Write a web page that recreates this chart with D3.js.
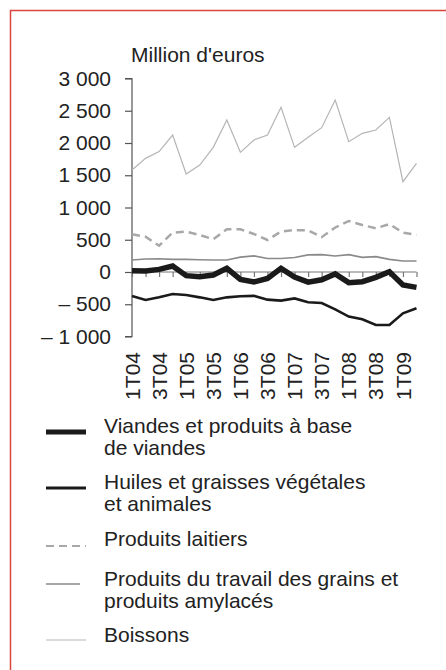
<!DOCTYPE html>
<meta charset="utf-8">
<style type="text/css">
	html, body { margin: 0; padding: 0; background: #ffffff; overflow: hidden; }
	svg { display: block; }
	svg text { font-family: "Liberation Sans", Arial, sans-serif; fill: #222222; }
</style>
<body>
	<div id="chartCt"></div>
</body>

<script src="https://d3js.org/d3.v7.min.js"></script>
<script>
	// quarters 1T04 .. 2T09
	const quarters = ["1T04", "2T04", "3T04", "4T04", "1T05", "2T05", "3T05", "4T05",
		"1T06", "2T06", "3T06", "4T06", "1T07", "2T07", "3T07", "4T07",
		"1T08", "2T08", "3T08", "4T08", "1T09", "2T09"];
	const tickLabels = ["1T04", "3T04", "1T05", "3T05", "1T06", "3T06", "1T07", "3T07", "1T08", "3T08", "1T09"];
	const yTicks = [-1000, -500, 0, 500, 1000, 1500, 2000, 2500, 3000];

	// million d'euros
	const viandes = [20, 16, 41, 93, -57, -72, -47, 57, -114, -155, -100, 57, -78, -158, -120, -30, -165, -150, -83, 5, -202, -238];
	const huiles = [-372, -434, -393, -341, -357, -393, -434, -393, -377, -370, -429, -444, -410, -468, -480, -580, -692, -734, -822, -822, -641, -563];
	const laitiers = [584, 548, 408, 610, 625, 574, 507, 662, 662, 590, 496, 628, 650, 645, 540, 690, 791, 729, 677, 744, 610, 574];
	const grains = [186, 201, 206, 196, 196, 191, 186, 186, 230, 250, 210, 210, 225, 266, 270, 248, 269, 227, 238, 196, 171, 171];
	const boissons = [1581, 1762, 1866, 2124, 1519, 1659, 1933, 2357, 1855, 2047, 2124, 2553, 1933, 2088, 2238, 2667, 2020, 2150, 2202, 2398, 1400, 1685];

	const series = [
		{ label: ["Viandes et produits à base", "de viandes"], values: viandes, color: "#1a1a1a", width: 5.5, dash: null, legendWidth: 5 },
		{ label: ["Huiles et graisses végétales", "et animales"], values: huiles, color: "#1a1a1a", width: 2.6, dash: null, legendWidth: 3 },
		{ label: ["Produits laitiers"], values: laitiers, color: "#a8a8a8", width: 2.5, dash: "8,5", legendWidth: 2.2 },
		{ label: ["Produits du travail des grains et", "produits amylacés"], values: grains, color: "#8a8a8a", width: 1.6, dash: null, legendWidth: 1.6 },
		{ label: ["Boissons"], values: boissons, color: "#b5b5b5", width: 1.2, dash: null, legendWidth: 1.2 }
	];
	// draw order: light lines first, thick black on top
	const drawOrder = [4, 3, 2, 1, 0];

	const width = 446;
	const height = 670;

	const svg = d3.select("#chartCt")
		.append("svg")
		.attr("width", width)
		.attr("height", height);

	// red frame, open on the right and bottom
	svg.append("path")
		.attr("d", `M10.5,${height}V10.5H${width}`)
		.attr("fill", "none")
		.attr("stroke", "#d8463d")
		.attr("stroke-width", 1.5);

	const x = d3.scalePoint()
		.domain(quarters)
		.range([132, 416.5]);

	const y = d3.scaleLinear()
		.domain([-1000, 3000])
		.range([336.5, 78.5]);

	svg.append("text")
		.attr("x", 131)
		.attr("y", 62)
		.style("font-size", "21px")
		.text("Million d'euros");

	// y axis
	const fmt = v => (v < 0 ? "\u2013 " : "") + d3.format(",")(Math.abs(v)).replace(/,/g, " ");
	const yAxis = svg.append("g")
		.attr("transform", `translate(${x(quarters[0])},0)`)
		.call(d3.axisLeft(y).tickValues(yTicks).tickSize(7).tickPadding(14).tickFormat(fmt));
	yAxis.select(".domain").attr("stroke", "#555555").attr("stroke-width", 1.2).attr("d", `M-7,${y(3000)}H0V${y(-1000)}H-7`);
	yAxis.selectAll(".tick line").attr("stroke", "#555555").attr("stroke-width", 1.2);
	yAxis.selectAll(".tick text").style("font-size", "21px").attr("fill", "#222222");

	// x axis on the zero line
	const xAxis = svg.append("g")
		.attr("transform", `translate(0,${y(0)})`)
		.call(d3.axisBottom(x).tickSize(5).tickFormat(""));
	xAxis.select(".domain").attr("stroke", "#777777").attr("stroke-width", 1.2).attr("d", `M${x(quarters[0])},0H${x(quarters[quarters.length - 1])}`);
	xAxis.selectAll(".tick line").attr("stroke", "#777777").attr("stroke-width", 1.2);

	// rotated quarter labels
	svg.append("g")
		.selectAll("text")
		.data(tickLabels)
		.join("text")
		.attr("transform", d => `translate(${x(d)},352) rotate(-90)`)
		.attr("dy", "0.36em")
		.attr("text-anchor", "end")
		.style("font-size", "21px")
		.text(d => d);

	const line = d3.line()
		.x((d, i) => x(quarters[i]))
		.y(d => y(d));

	svg.append("g")
		.selectAll("path")
		.data(drawOrder.map(i => series[i]))
		.join("path")
		.attr("d", d => line(d.values))
		.attr("fill", "none")
		.attr("stroke", d => d.color)
		.attr("stroke-width", d => d.width)
		.attr("stroke-dasharray", d => d.dash)
		.attr("stroke-linejoin", "miter");

	// legend
	const legendY = [432, 488, 546, 584, 640];
	const legendTextY = [426, 482, 539, 579, 635];
	const legend = svg.append("g")
		.selectAll("g")
		.data(series)
		.join("g");

	legend.append("line")
		.attr("x1", 46)
		.attr("x2", (d, i) => i === 3 ? 80 : 86)
		.attr("y1", (d, i) => legendY[i])
		.attr("y2", (d, i) => legendY[i])
		.attr("stroke", d => d.color)
		.attr("stroke-width", d => d.legendWidth)
		.attr("stroke-dasharray", d => d.dash);

	legend.append("text")
		.attr("y", (d, i) => legendTextY[i])
		.style("font-size", "21px")
		.selectAll("tspan")
		.data(d => d.label)
		.join("tspan")
		.attr("x", 104)
		.attr("dy", (d, j) => j === 0 ? "0.35em" : "22px")
		.text(d => d);
</script>
